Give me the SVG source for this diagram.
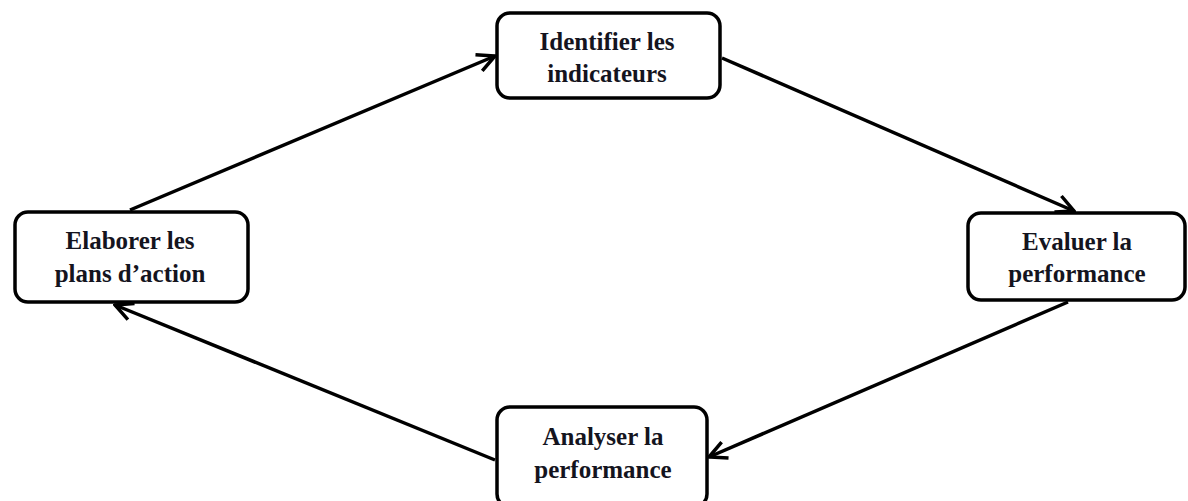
<svg xmlns="http://www.w3.org/2000/svg" width="1188" height="501" viewBox="0 0 1188 501">
  <style>
    .box { fill: #ffffff; stroke: #000000; stroke-width: 3.5; }
    .lbl { font-family: "Liberation Serif", "Times New Roman", serif; font-weight: bold; font-size: 25px; fill: #14141e; text-anchor: middle; }
    .edge { fill: none; stroke: #000000; stroke-width: 3.5; marker-end: url(#arrow); }
  </style>
  <defs>
    <marker id="arrow" viewBox="0 0 12 12" refX="11" refY="6" markerWidth="6" markerHeight="6" markerUnits="strokeWidth" orient="auto">
      <path d="M1,1 L11,6 L1,11" fill="none" stroke="#000000" stroke-width="2"/>
    </marker>
  </defs>
  <rect width="1188" height="501" fill="#ffffff"/>

  <g id="connectors">
    <line class="edge" x1="130" y1="210" x2="495" y2="56"/>
    <line class="edge" x1="722" y1="58" x2="1074" y2="211"/>
    <line class="edge" x1="1068" y1="302" x2="709" y2="457"/>
    <line class="edge" x1="495" y1="460" x2="115" y2="305"/>
  </g>

  <g id="node-identifier">
    <rect class="box" x="497" y="13" width="223" height="85" rx="13"/>
    <text class="lbl" x="607" y="50">Identifier les</text>
    <text class="lbl" x="607" y="82">indicateurs</text>
  </g>

  <g id="node-evaluer">
    <rect class="box" x="968" y="213" width="217" height="87" rx="13"/>
    <text class="lbl" x="1077" y="250">Evaluer la</text>
    <text class="lbl" x="1077" y="282">performance</text>
  </g>

  <g id="node-analyser">
    <rect class="box" x="497" y="407" width="210" height="100" rx="13"/>
    <text class="lbl" x="603" y="445">Analyser la</text>
    <text class="lbl" x="603" y="478">performance</text>
  </g>

  <g id="node-elaborer">
    <rect class="box" x="15" y="212" width="233" height="90" rx="13"/>
    <text class="lbl" x="130" y="249">Elaborer les</text>
    <text class="lbl" x="130" y="282">plans d’action</text>
  </g>
</svg>
